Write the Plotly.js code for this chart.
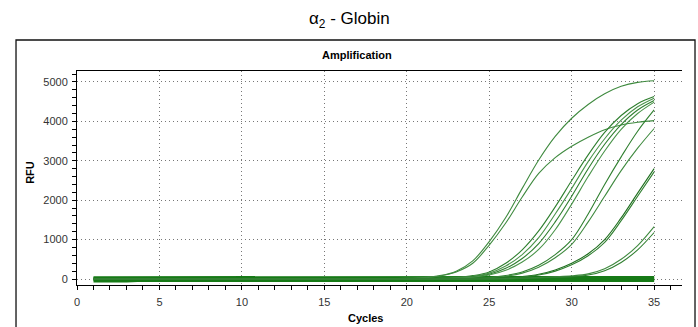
<!DOCTYPE html>
<html>
<head>
<meta charset="utf-8">
<script src="https://cdn.plot.ly/plotly-3.0.1.min.js"></script>
<style>
  html, body { margin: 0; padding: 0; background: #fff; }
  #chart { width: 698px; height: 327px; }
</style>
</head>
<body>
<div id="chart"></div>
<script>
// ---- Data ----
const cycles = [1,2,3,4,5,6,7,8,9,10,11,12,13,14,15,16,17,18,19,20,21,22,23,24,25,26,27,28,29,30,31,32,33,34,35];

const curveA  = [10,10,10,10,10,10,10,10,10,10,10,10,10,10,10,10,10,12,14,18,38,85,200,460,950,1560,2300,3020,3620,4080,4430,4700,4890,4990,5030];
const curveB  = [5,5,5,5,5,5,5,5,5,5,5,5,5,5,5,5,5,8,10,15,32,78,180,400,860,1420,2080,2680,3080,3370,3600,3790,3910,3980,4020];
const curveC1 = [0,0,0,0,0,0,0,0,0,0,0,0,0,0,0,0,0,0,0,5,10,20,40,85,180,400,740,1220,1830,2500,3150,3720,4150,4450,4630];
const curveC2 = [0,0,0,0,0,0,0,0,0,0,0,0,0,0,0,0,0,0,0,5,8,15,30,70,150,330,620,1050,1650,2300,2980,3560,4030,4370,4590];
const curveC3 = [0,0,0,0,0,0,0,0,0,0,0,0,0,0,0,0,0,0,0,3,6,12,25,55,120,270,520,900,1450,2100,2800,3420,3920,4290,4530];
const curveC4 = [0,0,0,0,0,0,0,0,0,0,0,0,0,0,0,0,0,0,0,2,5,10,20,45,100,220,430,750,1250,1900,2600,3250,3800,4200,4490];
const curveE1 = [0,0,0,0,0,0,0,0,0,0,0,0,0,0,0,0,0,0,0,0,3,6,10,20,40,90,180,350,620,1000,1650,2400,3100,3750,4290];
const curveE2 = [0,0,0,0,0,0,0,0,0,0,0,0,0,0,0,0,0,0,0,0,2,5,8,15,30,70,150,300,540,880,1450,2100,2750,3320,3820];
const curveD1 = [0,0,0,0,0,0,0,0,0,0,0,0,0,0,0,0,0,0,0,0,0,0,3,8,15,30,60,120,230,400,640,1000,1550,2180,2800];
const curveD2 = [0,0,0,0,0,0,0,0,0,0,0,0,0,0,0,0,0,0,0,0,0,0,0,5,10,25,50,100,200,360,590,930,1480,2100,2720];
const curveF1 = [0,0,0,0,0,0,0,0,0,0,0,0,0,0,0,0,0,0,0,0,0,0,0,0,0,10,20,35,55,80,130,260,500,850,1330];
const curveF2 = [0,0,0,0,0,0,0,0,0,0,0,0,0,0,0,0,0,0,0,0,0,0,0,0,0,0,15,25,40,60,100,210,420,740,1180];

// Non-amplifying wells (flat baseline band)
const flatN1 = [-60,-60,-55,-40,-40,-40,-40,-40,-40,-40,-40,-40,-40,-40,-45,-45,-40,-40,-40,-40,-40,-40,-40,-40,-40,-40,-40,-40,-40,-40,-40,-45,-45,-45,-45];
const flatN2 = [-20,-20,-20,-15,-15,-15,-10,-10,-10,-10,-10,-10,-10,-10,-10,-10,-10,-10,-10,-10,-10,-10,-10,-10,-10,-10,-10,-10,-10,-10,-10,-10,-10,-10,-10];
const flatN3 = [20,20,20,20,20,20,20,25,25,25,25,25,25,25,25,25,25,25,25,25,25,25,25,25,25,25,25,25,25,25,25,20,20,20,20];
const flatN4 = [40,40,40,45,45,45,45,45,45,45,45,45,45,45,45,45,45,45,45,45,45,45,45,45,45,45,45,45,45,45,45,45,45,45,45];

const curveSeries = [
  {name: 'A',  y: curveA,  color: '#3f8a3f'},
  {name: 'B',  y: curveB,  color: '#3f8a3f'},
  {name: 'C1', y: curveC1, color: '#2f7f2f'},
  {name: 'C2', y: curveC2, color: '#4a944a'},
  {name: 'C3', y: curveC3, color: '#2f7f2f'},
  {name: 'C4', y: curveC4, color: '#4a944a'},
  {name: 'E1', y: curveE1, color: '#2f7f2f'},
  {name: 'E2', y: curveE2, color: '#3f8a3f'},
  {name: 'D1', y: curveD1, color: '#1f6f1f'},
  {name: 'D2', y: curveD2, color: '#2f7f2f'},
  {name: 'F1', y: curveF1, color: '#3f8a3f'},
  {name: 'F2', y: curveF2, color: '#2f7f2f'}
];
const flatSeries = [flatN1, flatN2, flatN3, flatN4];

const traces = [];
flatSeries.forEach(function (s, i) {
  traces.push({x: cycles, y: s, type: 'scatter', mode: 'lines', name: 'N' + (i + 1),
    line: {color: '#177a17', width: 2.5}, hoverinfo: 'skip', showlegend: false});
});
curveSeries.forEach(function (s) {
  traces.push({x: cycles, y: s.y, type: 'scatter', mode: 'lines', name: s.name,
    line: {color: s.color, width: 1.1, shape: 'spline', smoothing: 1}, showlegend: false});
});

const XR = [0, 36.69];
const YR = [-152, 5279];
const tickFont = {family: 'Liberation Sans, Arial, sans-serif', size: 11, color: '#333'};
const boldFont = {family: 'Liberation Sans, Arial, sans-serif', size: 11, color: '#000', weight: 'bold'};
const gridDash = '1px,3px';

const layout = {
  width: 698, height: 327,
  margin: {l: 77, r: 16, t: 71, b: 42},
  paper_bgcolor: '#fff', plot_bgcolor: '#fff',
  showlegend: false,
  xaxis: {
    range: XR, tickvals: [0,5,10,15,20,25,30,35], ticks: 'outside', ticklen: 4, tickcolor: '#000',
    minor: {dtick: 1, tick0: 0, ticks: 'outside', ticklen: 4, tickcolor: '#000', showgrid: false},
    showgrid: true, gridcolor: '#777', griddash: gridDash, gridwidth: 1,
    zeroline: false, showline: true, linecolor: '#000', linewidth: 1, mirror: true,
    tickfont: tickFont, ticklabelstandoff: 3, fixedrange: true
  },
  yaxis: {
    range: YR, tickvals: [0,1000,2000,3000,4000,5000], ticks: 'outside', ticklen: 4, tickcolor: '#000',
    minor: {dtick: 200, tick0: 0, ticks: 'outside', ticklen: 4, tickcolor: '#000', showgrid: false},
    showgrid: true, gridcolor: '#777', griddash: gridDash, gridwidth: 1,
    zeroline: false, showline: true, linecolor: '#000', linewidth: 1,
    tickfont: tickFont, ticklabelstandoff: 2, fixedrange: true
  },
  xaxis2: {
    overlaying: 'x', anchor: 'y', range: XR, dtick: 1, tick0: 0, ticks: 'inside', ticklen: 4, tickcolor: '#000',
    showticklabels: false, showgrid: false, zeroline: false, showline: false, fixedrange: true
  },
  yaxis2: {
    overlaying: 'y', anchor: 'x', side: 'left', range: YR, dtick: 200, tick0: 0, ticks: 'inside', ticklen: 4, tickcolor: '#000',
    showticklabels: false, showgrid: false, zeroline: false, showline: true, linecolor: '#000', mirror: 'ticks', fixedrange: true
  },
  shapes: [{
    type: 'rect', xref: 'paper', yref: 'paper', x0: -0.1008, x1: 1.0215, y0: -0.35, y1: 1.1449,
    line: {color: '#111', width: 1.3}, fillcolor: 'rgba(0,0,0,0)', layer: 'above'
  }],
  annotations: [
    {text: 'α<sub>2</sub> - Globin', xref: 'paper', yref: 'paper', x: 0.4498, y: 1.238,
     xanchor: 'center', yanchor: 'middle', showarrow: false,
     font: {family: 'Liberation Sans, Arial, sans-serif', size: 17, color: '#000'}},
    {text: 'Amplification', xref: 'paper', yref: 'paper', x: 0.463, y: 1.0747,
     xanchor: 'center', yanchor: 'middle', showarrow: false, font: boldFont},
    {text: 'RFU', xref: 'paper', yref: 'paper', x: -0.0777, y: 0.5287, textangle: -90,
     xanchor: 'center', yanchor: 'middle', showarrow: false, font: boldFont},
    {text: 'Cycles', xref: 'paper', yref: 'paper', x: 0.4763, y: -0.1526,
     xanchor: 'center', yanchor: 'middle', showarrow: false, font: boldFont}
  ]
};

Plotly.newPlot('chart', traces, layout, {displayModeBar: false, staticPlot: true});
</script>
</body>
</html>
